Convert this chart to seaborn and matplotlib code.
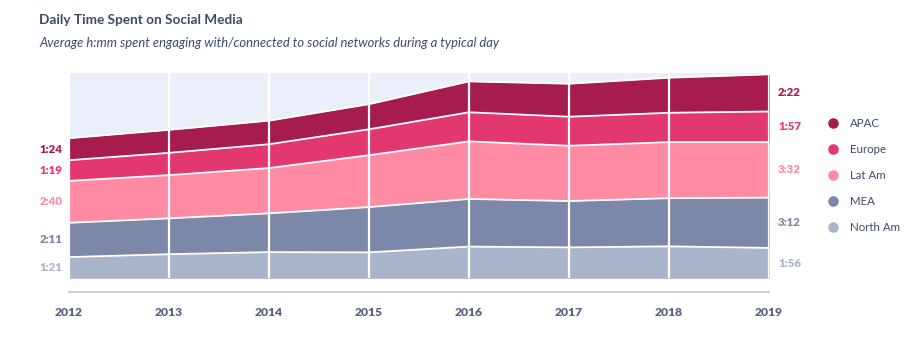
import matplotlib
matplotlib.use("Agg")
import matplotlib.pyplot as plt
from matplotlib.lines import Line2D
import numpy as np
import pandas as pd
import seaborn as sns

# Average daily minutes spent on social networks, by region
years = [2012, 2013, 2014, 2015, 2016, 2017, 2018, 2019]
north_am = [81, 92, 100, 99, 121, 118, 122, 116]
mea = [131, 137, 148, 173, 182, 177, 184, 192]
lat_am = [160, 165, 173, 198, 220, 211, 214, 212]
europe = [79, 85, 91, 99, 111, 111, 112, 117]
apac = [84, 88, 90, 96, 118, 126, 134, 142]

regions = ["North Am", "MEA", "Lat Am", "Europe", "APAC"]
colors = ["#AAB5CC", "#7D88A8", "#FF8AA4", "#E3376F", "#A71C4E"]

df = pd.DataFrame({"year": years, "North Am": north_am, "MEA": mea,
                   "Lat Am": lat_am, "Europe": europe, "APAC": apac})
cum = df[regions].cumsum(axis=1)


def hmm(minutes):
    return f"{minutes // 60}:{minutes % 60:02d}"


sns.set_theme(style="white")
plt.rcParams["font.family"] = ["Lato", "DejaVu Sans"]

TITLE_C = "#3D4A6B"
TICK_C = "#59627F"
AXIS_C = "#C8D0E1"

fig = plt.figure(figsize=(9.17, 3.39), dpi=100)
ax = fig.add_axes([69 / 917, (339 - 278.3) / 339, 700 / 917, 205.3 / 339])
ax.set_facecolor("#EBEFFA")

# stacked bands
lower = np.zeros(len(years))
for name, col in zip(regions, colors):
    upper = cum[name].to_numpy()
    ax.fill_between(df["year"], lower, upper, color=col, lw=0, zorder=1)
    lower = upper

# white separators along each band's top edge
long = cum.assign(year=df["year"]).melt(id_vars="year", var_name="region",
                                         value_name="top")
sns.lineplot(data=long, x="year", y="top", units="region", estimator=None,
             color="white", lw=1.3, ax=ax, zorder=2, legend=False)

# axis styling (spine offset first: it resets the ticks)
for s in ["top", "left", "right"]:
    ax.spines[s].set_visible(False)
ax.spines["bottom"].set_position(("outward", 10))
ax.spines["bottom"].set_color(AXIS_C)
ax.spines["bottom"].set_linewidth(1.5)

ax.set_xlim(years[0], years[-1])
ax.set_ylim(0, 784)
ax.set_xlabel("")
ax.set_ylabel("")
ax.set_yticks([])
ax.set_xticks(years)
ax.tick_params(axis="x", direction="out", length=4.5, width=1.5,
               color=AXIS_C, pad=6, labelsize=8.7, labelcolor=TICK_C)
ax.set_xticklabels([str(y) for y in years], fontsize=8.7, fontweight="heavy",
                   color=TICK_C)
ax.grid(axis="x", color="white", lw=1.6, zorder=3)
ax.set_axisbelow(False)

# value labels at both ends of each band
base = np.zeros(len(years))
for name, col in zip(regions, colors):
    vals = df[name].to_numpy()
    mid = base + vals / 2
    ax.annotate(hmm(int(vals[0])), (years[0], mid[0]), xytext=(-5, 0),
                textcoords="offset points", ha="right", va="center",
                fontsize=8.2, fontweight="heavy", color=col,
                annotation_clip=False)
    ax.annotate(hmm(int(vals[-1])), (years[-1], mid[-1]), xytext=(6.5, 0),
                textcoords="offset points", ha="left", va="center",
                fontsize=8.2, fontweight="heavy", color=col,
                annotation_clip=False)
    base = base + vals

# legend, APAC on top
handles = [Line2D([], [], marker="o", ls="", markersize=7.6, color=c,
                  markeredgewidth=0) for c in colors[::-1]]
fig.legend(handles, regions[::-1], loc="upper left",
           bbox_to_anchor=(821 / 917, 1 - 113.5 / 339), frameon=False,
           fontsize=8.3, labelcolor=TITLE_C, handletextpad=0.95,
           labelspacing=1.3, handlelength=1.2, borderaxespad=0)

fig.text(39 / 917, 1 - 20 / 339, "Daily Time Spent on Social Media",
         fontsize=9.8, fontweight="bold", color=TITLE_C, va="center")
fig.text(39 / 917, 1 - 43 / 339,
         "Average h:mm spent engaging with/connected to social networks during a typical day",
         fontsize=9.4, fontstyle="italic", color=TITLE_C, va="center")

fig.savefig("out.png", dpi=100)
